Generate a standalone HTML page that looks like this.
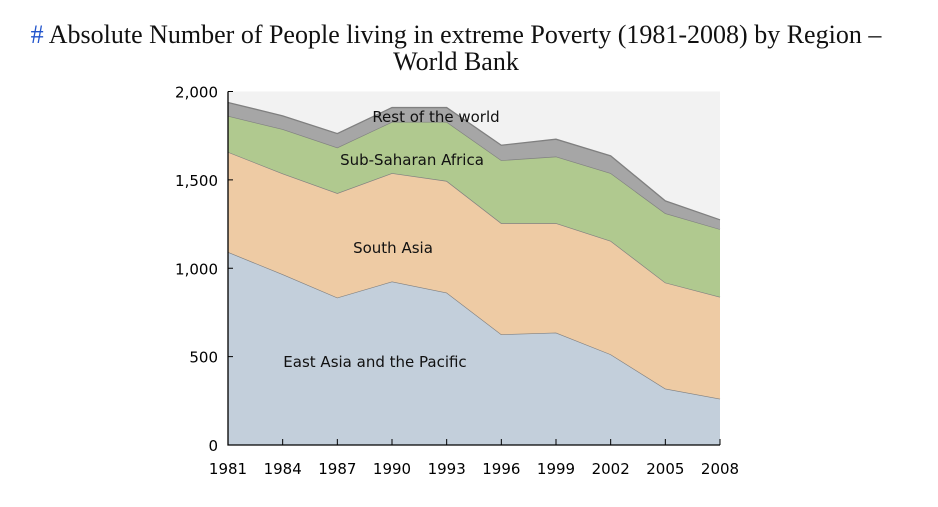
<!DOCTYPE html>
<html><head><meta charset="utf-8"><style>
body{margin:0;background:#fff;width:938px;height:507px;overflow:hidden}
#title{position:absolute;left:0;top:21px;width:912px;text-align:center;font-family:"Liberation Serif",serif;font-size:26px;line-height:27px;color:#111;white-space:nowrap}
#title span{color:#2255cc}
svg{position:absolute;left:0;top:0}
text{font-family:"DejaVu Sans","Liberation Sans",sans-serif}
</style></head><body>
<div id="title"><span>#</span> Absolute Number of People living in extreme Poverty (1981-2008) by Region –<br>World Bank</div>
<svg id="chart" width="938" height="507"></svg>
<script>
const years=[1981,1984,1987,1990,1993,1996,1999,2002,2005,2008];
const eastAsia=[1092,966,834,925,862,626,636,513,319,262];
const southAsia=[566,570,591,613,632,629,619,642,600,576];
const subSaharan=[204,251,258,290,334,356,377,383,392,383];
const restWorld=[76,75,79,81,81,85,98,98,70,53];
const yTicks=[0,500,1000,1500,2000];
const seriesNames=["East Asia and the Pacific","South Asia","Sub-Saharan Africa","Rest of the world"];

const NS="http://www.w3.org/2000/svg";
const svg=document.getElementById('chart');
const X0=228,X1=720,Y0=445,Y1=91.5;
const xs=i=>X0+(X1-X0)*(years[i]-years[0])/(years[years.length-1]-years[0]);
const ys=v=>Y0-(Y0-Y1)*v/2000;
function mk(t,a){const e=document.createElementNS(NS,t);for(const k in a)e.setAttribute(k,a[k]);svg.appendChild(e);return e;}
const bg=mk('rect',{x:X0,y:Y1,width:X1-X0,height:Y0-Y1,fill:'#f2f2f2'});


const series=[eastAsia,southAsia,subSaharan,restWorld];
const fills=['#c3cfdb','#eecba4','#b0c98f','#a6a6a6'];
const keys=['east-asia-area','south-asia-area','sub-saharan-africa-area','rest-of-world-area'];
let base=years.map(()=>0);
series.forEach((s,k)=>{
  const top=base.map((b,i)=>b+s[i]);
  let d='M'+years.map((y,i)=>xs(i)+','+ys(top[i])).join(' L');
  for(let i=years.length-1;i>=0;i--)d+=' L'+xs(i)+','+ys(base[i]);
  const p=mk('path',{d:d+'Z',fill:fills[k]});
  
  
  const l=mk('polyline',{points:years.map((y,i)=>xs(i)+','+ys(top[i])).join(' '),fill:'none',stroke:'#808080','stroke-width':1.3});
  
  
  base=top;
});
const ax=mk('path',{d:`M${X0},${Y1} V${Y0} H${X1}`,fill:'none',stroke:'#000','stroke-width':1.3});


yTicks.forEach(v=>{
  const t=mk('line',{x1:X0,x2:X0+5,y1:ys(v),y2:ys(v),stroke:'#000'});
  
  
  const tx=mk('text',{x:X0-10,y:ys(v)+6,'text-anchor':'end','font-size':15,fill:'#000'});
  tx.textContent=v.toLocaleString('en-US');
  
  
});
years.forEach((y,i)=>{
  const t=mk('line',{x1:xs(i),x2:xs(i),y1:Y0,y2:Y0-6,stroke:'#000'});
  
  
  const tx=mk('text',{x:xs(i),y:474,'text-anchor':'middle','font-size':15,fill:'#000'});
  tx.textContent=y;
  
  
});
const labels=[[375,367],[393,253],[412,165],[436,122]];
seriesNames.forEach((n,k)=>{
  const tx=mk('text',{x:labels[k][0],y:labels[k][1],'text-anchor':'middle','font-size':15,fill:'#111'});
  tx.textContent=n;
  
  
});
</script>
</body></html>
